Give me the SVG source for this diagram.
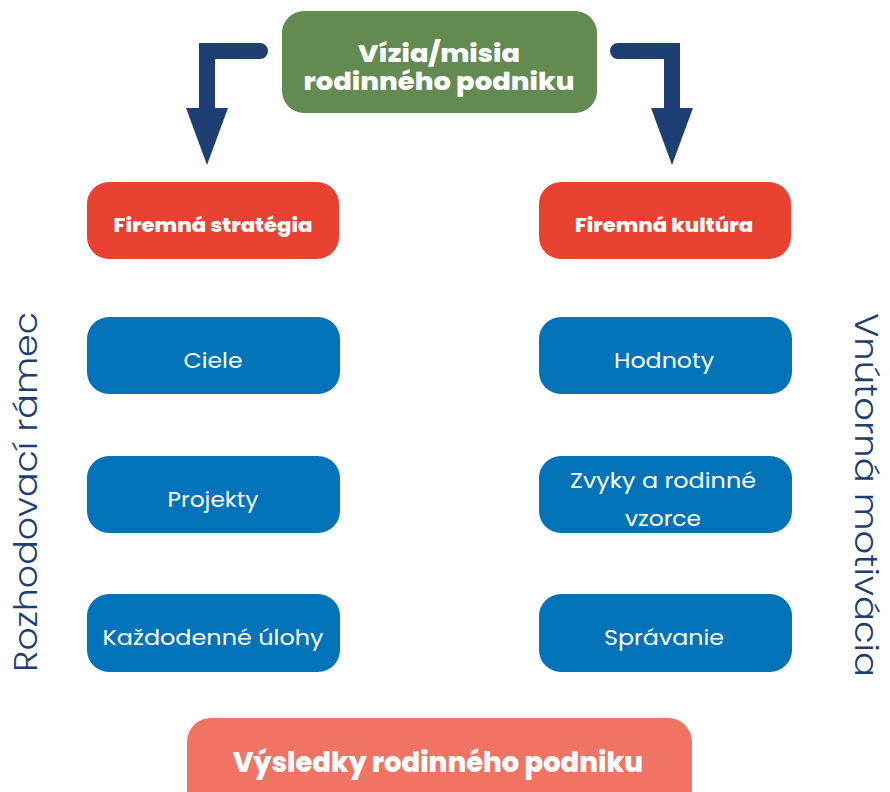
<svg xmlns="http://www.w3.org/2000/svg" width="890" height="792" viewBox="0 0 890 792">
<style>
  .t{font-family:Poppins,"Open Sans","Noto Sans","DejaVu Sans",sans-serif;fill:#fff;text-anchor:middle}
  .b{font-weight:800}
  .r{font-size:21px;font-weight:400}
  .side{font-family:Poppins,"Open Sans","Noto Sans","DejaVu Sans",sans-serif;fill:#1E3F74;font-size:32px;font-weight:300;text-anchor:middle}
  .blue{fill:#0273B9}
  .red{fill:#E94132}
  .arr{fill:#1E3F74}
</style>
<rect width="890" height="792" fill="#fff"/>
<g id="vizia">
  <rect x="282" y="11" width="315" height="102" rx="22" fill="#628A51"/>
  <text class="t b" x="439" y="62" font-size="25" textLength="162" lengthAdjust="spacingAndGlyphs">Vízia/misia</text>
  <text class="t b" x="439" y="90" font-size="25" textLength="271" lengthAdjust="spacingAndGlyphs">rodinného podniku</text>
</g>
<g id="connectors">
  <path class="arr" d="M268,51 A8,8 0 0 0 260,43 L199,43 L199,108 L186,108 L207,165 L228,108 L215,108 L215,59 L260,59 A8,8 0 0 0 268,51 Z"/>
  <path class="arr" d="M610,51 A8,8 0 0 1 618,43 L680,43 L680,108 L693,108 L672,165 L651,108 L664,108 L664,59 L618,59 A8,8 0 0 1 610,51 Z"/>
</g>
<g id="strategia">
  <rect class="red" x="87" y="182" width="252" height="77" rx="22"/>
  <text class="t b" x="213" y="232" font-size="19" textLength="199" lengthAdjust="spacingAndGlyphs">Firemná stratégia</text>
</g>
<g id="kultura">
  <rect class="red" x="539" y="182" width="252" height="77" rx="22"/>
  <text class="t b" x="664" y="232" font-size="19" textLength="178" lengthAdjust="spacingAndGlyphs">Firemná kultúra</text>
</g>
<g id="ciele">
  <rect class="blue" x="87" y="317" width="253" height="77" rx="22"/>
  <text class="t r" x="213" y="368" textLength="59" lengthAdjust="spacingAndGlyphs">Ciele</text>
</g>
<g id="projekty">
  <rect class="blue" x="87" y="456" width="253" height="77" rx="22"/>
  <text class="t r" x="213" y="507" textLength="91" lengthAdjust="spacingAndGlyphs">Projekty</text>
</g>
<g id="ulohy">
  <rect class="blue" x="87" y="594" width="253" height="78" rx="22"/>
  <text class="t r" x="213" y="645" textLength="221" lengthAdjust="spacingAndGlyphs">Každodenné úlohy</text>
</g>
<g id="hodnoty">
  <rect class="blue" x="539" y="317" width="253" height="77" rx="22"/>
  <text class="t r" x="664" y="368" textLength="100" lengthAdjust="spacingAndGlyphs">Hodnoty</text>
</g>
<g id="zvyky">
  <rect class="blue" x="539" y="456" width="253" height="77" rx="22"/>
  <text class="t r" x="663" y="488" textLength="186" lengthAdjust="spacingAndGlyphs">Zvyky a rodinné</text>
  <text class="t r" x="663" y="526" textLength="76" lengthAdjust="spacingAndGlyphs">vzorce</text>
</g>
<g id="spravanie">
  <rect class="blue" x="539" y="594" width="253" height="78" rx="22"/>
  <text class="t r" x="664" y="645" textLength="120" lengthAdjust="spacingAndGlyphs">Správanie</text>
</g>
<g id="vysledky">
  <rect x="187" y="718" width="505" height="110" rx="24" fill="#F17363"/>
  <text class="t b" x="438" y="772" font-size="28" textLength="410" lengthAdjust="spacingAndGlyphs">Výsledky rodinného podniku</text>
</g>
<g id="rozhodovaci">
  <text class="side" transform="translate(37,492) rotate(-90)" textLength="360" lengthAdjust="spacingAndGlyphs">Rozhodovací rámec</text>
</g>
<g id="vnutorna">
  <text class="side" transform="translate(855,495) rotate(90)" textLength="364" lengthAdjust="spacingAndGlyphs">Vnútorná motivácia</text>
</g>
</svg>
